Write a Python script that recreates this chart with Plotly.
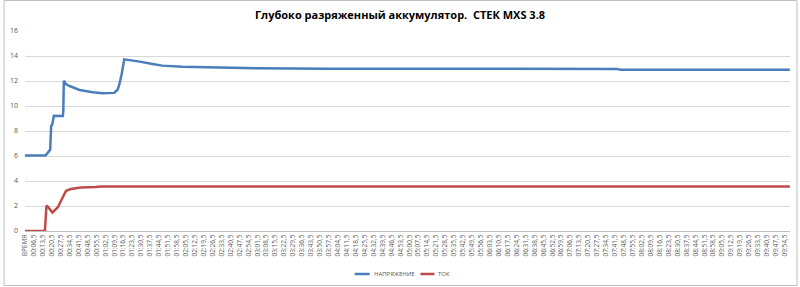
import plotly.graph_objects as go

# time (seconds); "ВРЕМЯ" header category sits at t = -0.5
volt_t = [-0.5, 15.6, 19.2, 20.0, 20.8, 22.1, 29.1, 29.5, 29.9, 31.5, 34.4, 42.2,
          52.5, 60.3, 69.4, 72.0, 73.3, 75.1, 77.2, 81.1, 89.2, 99.3, 107.1,
          122.7, 146.1, 181.2, 234.2, 309.9, 462.7, 465.9, 598.4]
volt_v = [6.05, 6.05, 6.5, 8.4, 8.5, 9.22, 9.2, 9.6, 12.02, 11.75, 11.6, 11.28,
          11.1, 11.03, 11.05, 11.3, 11.7, 12.5, 13.73, 13.68, 13.55, 13.36, 13.23,
          13.15, 13.08, 13.02, 12.99, 12.97, 12.97, 12.9, 12.9]

curr_t = [-0.5, 15.1, 16.3, 17.4, 21.0, 25.2, 28.6, 31.7, 35.4, 43.2, 54.9, 59.0, 598.4]
curr_v = [0.0, 0.0, 2.03, 1.95, 1.47, 1.9, 2.6, 3.22, 3.36, 3.48, 3.53, 3.56, 3.56]

# category tick labels (every 7th sample)
tick_seconds = [-0.5] + [s + 0.5 for s in range(6, 595, 7)]
tick_labels = ["ВРЕМЯ"] + [f"{s // 60:02d}:{s % 60:02d},5" for s in range(6, 595, 7)]

title_text = "Глубоко разряженный аккумулятор.  СТЕК MXS 3.8"
series_names = ["НАПРЯЖЕНИЕ", "ТОК"]

BLUE = "#4A7EBB"
RED = "#BE4B48"
GRAY = "#595959"
colors = [BLUE, RED]

fig = go.Figure()
fig.add_trace(go.Scatter(x=volt_t, y=volt_v, mode="lines", name=series_names[0],
                         line=dict(color=BLUE, width=2.5)))
fig.add_trace(go.Scatter(x=curr_t, y=curr_v, mode="lines", name=series_names[1],
                         line=dict(color=RED, width=2.5)))

L, R, T, B = 22, 10, 31, 56
W, H = 800, 287
pw, ph = W - L - R, H - T - B

def px_to_paper_x(px):
    return (px - L) / pw

def px_to_paper_y(py):
    return (H - B - py) / ph

shapes = [dict(type="rect", xref="paper", yref="paper",
               x0=px_to_paper_x(1), x1=px_to_paper_x(797),
               y0=px_to_paper_y(285.5), y1=px_to_paper_y(0.5),
               line=dict(color="#BFBFBF", width=1), fillcolor="rgba(0,0,0,0)", layer="below")]
annotations = []
legend_y = px_to_paper_y(274)
legend_slots = [(353, 368, 370), (419, 433, 435)]
for name, col, (lx0, lx1, tx) in zip(series_names, colors, legend_slots):
    shapes.append(dict(type="line", xref="paper", yref="paper",
                       x0=px_to_paper_x(lx0), x1=px_to_paper_x(lx1), y0=legend_y, y1=legend_y,
                       line=dict(color=col, width=2.5)))
    annotations.append(dict(text=name, xref="paper", yref="paper", x=px_to_paper_x(tx), y=legend_y,
                            xanchor="left", yanchor="middle", showarrow=False,
                            font=dict(family="Open Sans", size=6, color=GRAY)))

fig.update_layout(
    width=W, height=H,
    margin=dict(l=L, r=R, t=T, b=B, pad=0),
    paper_bgcolor="white", plot_bgcolor="white",
    title=dict(text=title_text, x=0.5, xanchor="center", y=1 - 15 / H, yanchor="middle",
               font=dict(family="Open Sans", size=11, color="#000000", weight="bold")),
    showlegend=False,
    xaxis=dict(range=[-0.5, 598.5], tickmode="array", tickvals=tick_seconds, ticktext=tick_labels,
               tickangle=-90, tickfont=dict(family="Open Sans", size=6.5, color=GRAY),
               showgrid=False, zeroline=False, showline=True, linecolor="#BFBFBF", linewidth=1,
               ticks="", fixedrange=True),
    yaxis=dict(range=[0, 16], dtick=2, tickfont=dict(family="Open Sans", size=7, color=GRAY),
               showgrid=True, gridcolor="#D9D9D9", gridwidth=1, zeroline=False, showline=False,
               ticks="", ticklabelstandoff=6, fixedrange=True),
    shapes=shapes,
    annotations=annotations,
)

fig.write_html("out.html")
